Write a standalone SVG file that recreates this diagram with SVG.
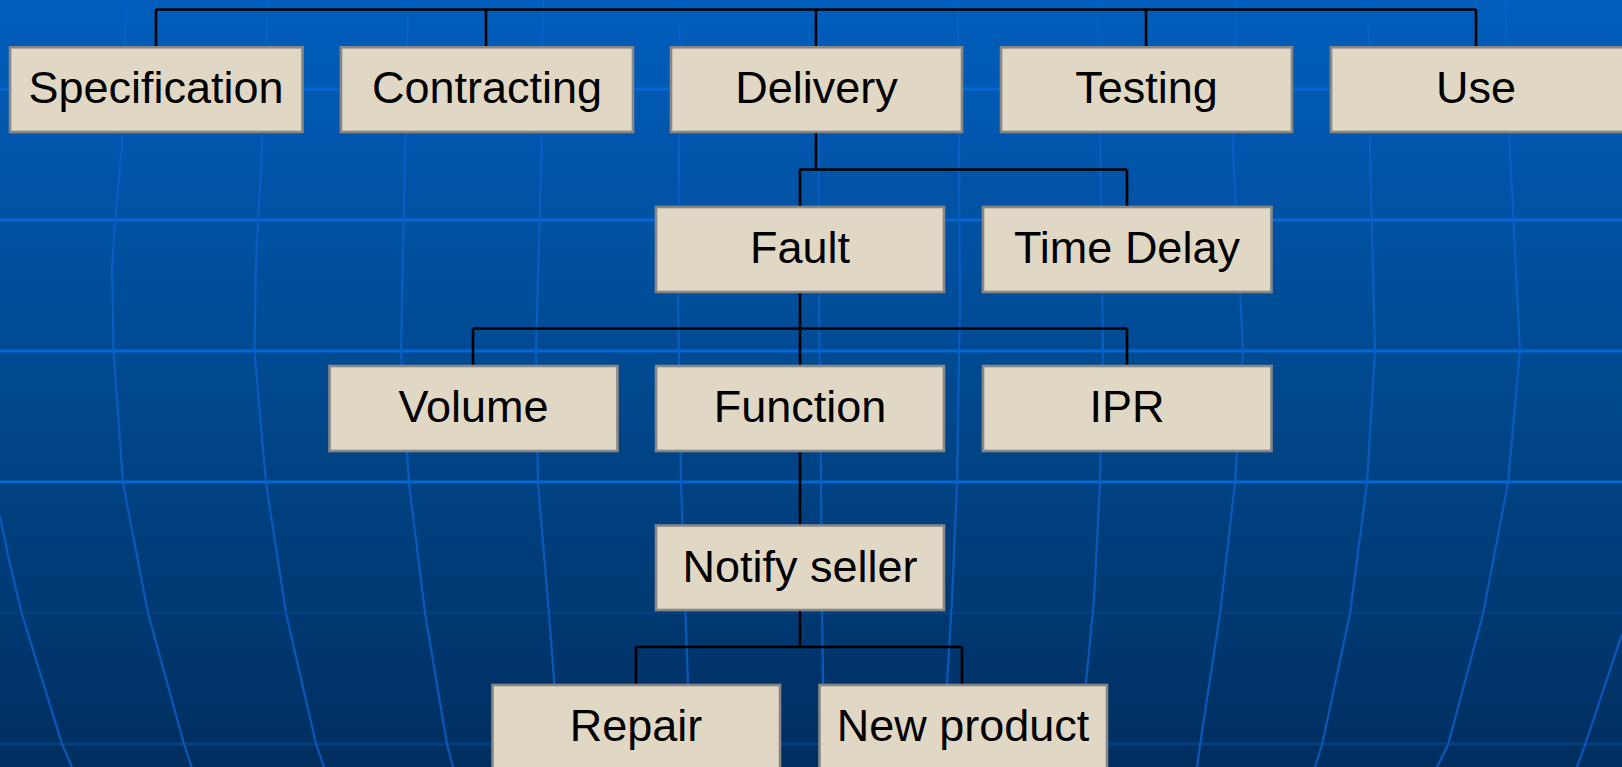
<svg xmlns="http://www.w3.org/2000/svg" width="1622" height="767" viewBox="0 0 1622 767">
<defs>
<linearGradient id="bg" x1="0" y1="0" x2="0" y2="1">
<stop offset="0" stop-color="#005EBD"/>
<stop offset="0.5" stop-color="#00498F"/>
<stop offset="1" stop-color="#002E5F"/>
</linearGradient>
</defs>
<style>
.mer{fill:none;stroke:#0A5FC8;stroke-width:2.2;opacity:0.85}
.lat{stroke:#0566D4;stroke-width:3}
.latd{stroke:#053F7E;stroke-width:3}
.box{fill:#E0D8C5;stroke:#878787;stroke-width:2.6}
.lbl{font-family:"Liberation Sans",Arial,sans-serif;font-size:45px;fill:#000;text-anchor:middle}
.con{fill:none;stroke:#000;stroke-width:2.6}
</style>
<rect x="0" y="0" width="1622" height="767" fill="url(#bg)"/>
<g id="background-grid">
<line class="lat" x1="0" y1="89" x2="1622" y2="89"/>
<line class="lat" x1="0" y1="220" x2="1622" y2="220"/>
<line class="lat" x1="0" y1="351" x2="1622" y2="351"/>
<line class="lat" x1="0" y1="482" x2="1622" y2="482"/>
<line class="latd" x1="0" y1="613" x2="1622" y2="613"/>
<line class="latd" x1="0" y1="744" x2="1622" y2="744"/>
<polyline class="mer" points="0,516 9,560 21.7,613 62,744 72,767"/>
<polyline class="mer" points="126,0 121.7,150 115,221 112,268 113.6,351 123,483 148,613 184,744 191.7,767"/>
<polyline class="mer" points="268,0 262,150 256,260 254.5,351 266,483 286,613 316,744 324,767"/>
<polyline class="mer" points="408,0 405,150 401,351 409,483 425,613 447,744 453,767"/>
<polyline class="mer" points="543,0 541.5,150 536,351 538,483 549,614 559,745 562,767"/>
<polyline class="mer" points="680,0 678,300 681,483 685,600 688,683 690,767"/>
<polyline class="mer" points="818,0 819,300 821,483 822,600 823,683 824,767"/>
<polyline class="mer" points="958,0 960,300 957,483 952,600 947,683 945,767"/>
<polyline class="mer" points="1098,0 1100,130 1103,350 1100,483 1094,600 1086,683 1083,767"/>
<polyline class="mer" points="1236,0 1233,150 1243,351 1235,483 1220,614 1200,745 1197,767"/>
<polyline class="mer" points="1368,0 1370,150 1375,351 1367,483 1350,614 1322,745 1315,767"/>
<polyline class="mer" points="1505,0 1510,150 1520,351 1508,483 1483,614 1448,745 1437,767"/>
<polyline class="mer" points="1622,634 1585,745 1577,767"/>
</g>
<g id="connectors">
<path class="con" d="M156,9.5 H1476 M156,9.5 V47 M486,9.5 V47 M816,9.5 V47 M1146,9.5 V47 M1476,9.5 V47"/>
<path class="con" d="M816,132 V169.5 M799.5,169.5 H1127 M800,169.5 V207 M1127,169.5 V207"/>
<path class="con" d="M800,292 V328.5 M473,328.5 H1127 M473,328.5 V366 M800,328.5 V366 M1127,328.5 V366"/>
<path class="con" d="M800,451 V525"/>
<path class="con" d="M800,610 V647 M636,647 H962 M636,647 V685 M962,647 V685"/>
</g>
<g id="n-specification"><rect class="box" x="10" y="47.3" width="292.5" height="84.7"/><text class="lbl" x="156" y="103">Specification</text></g>
<g id="n-contracting"><rect class="box" x="341" y="47.3" width="292" height="84.7"/><text class="lbl" x="487" y="103">Contracting</text></g>
<g id="n-delivery"><rect class="box" x="671" y="47.3" width="291" height="84.7"/><text class="lbl" x="816.5" y="103">Delivery</text></g>
<g id="n-testing"><rect class="box" x="1001" y="47.3" width="291" height="84.7"/><text class="lbl" x="1146.5" y="103">Testing</text></g>
<g id="n-use"><rect class="box" x="1331" y="47.3" width="293" height="84.7"/><text class="lbl" x="1476" y="103">Use</text></g>
<g id="n-fault"><rect class="box" x="656" y="207" width="288" height="85"/><text class="lbl" x="800" y="263">Fault</text></g>
<g id="n-timedelay"><rect class="box" x="983" y="207" width="288.5" height="85"/><text class="lbl" x="1127" y="263">Time Delay</text></g>
<g id="n-volume"><rect class="box" x="329.5" y="366" width="288" height="85"/><text class="lbl" x="473.5" y="422">Volume</text></g>
<g id="n-function"><rect class="box" x="656" y="366" width="288" height="85"/><text class="lbl" x="800" y="422">Function</text></g>
<g id="n-ipr"><rect class="box" x="983" y="366" width="288.5" height="85"/><text class="lbl" x="1127" y="422">IPR</text></g>
<g id="n-notify"><rect class="box" x="656" y="525.5" width="288" height="84.5"/><text class="lbl" x="800" y="581.5">Notify seller</text></g>
<g id="n-repair"><rect class="box" x="492.5" y="685" width="287.5" height="90"/><text class="lbl" x="636" y="741">Repair</text></g>
<g id="n-newproduct"><rect class="box" x="819.5" y="685" width="287.5" height="90"/><text class="lbl" x="963" y="741">New product</text></g>
</svg>
